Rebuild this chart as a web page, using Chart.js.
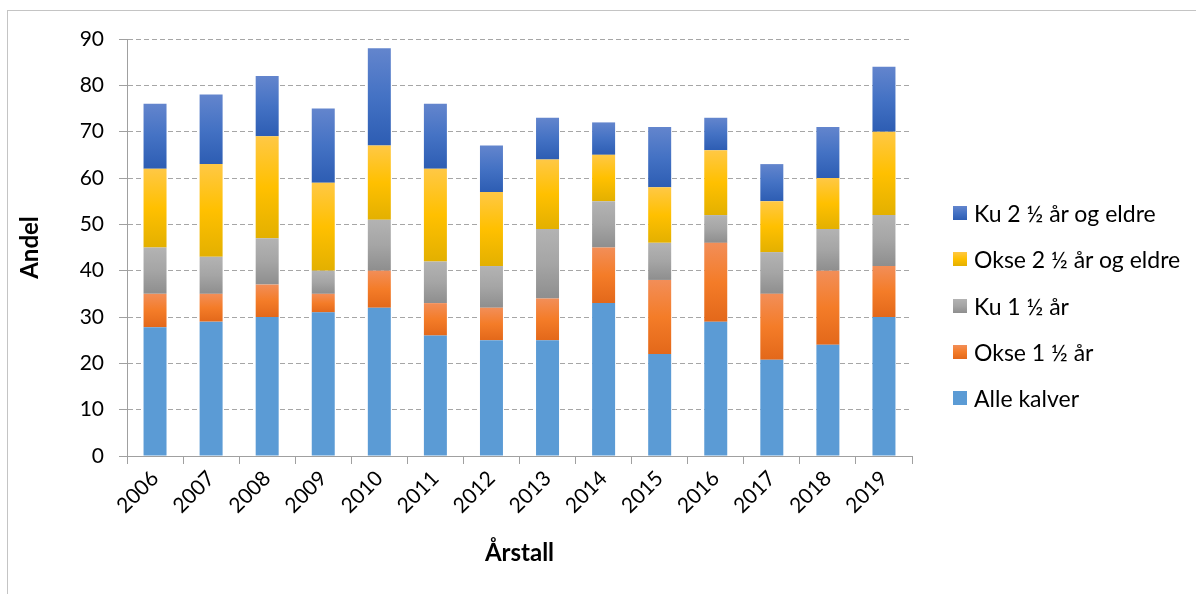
<!DOCTYPE html>
<html>
<head>
<meta charset="utf-8">
<script src="https://cdn.jsdelivr.net/npm/chart.js@4.4.1/dist/chart.umd.min.js"></script>
<style>
    html, body { margin: 0; padding: 0; background: #fff; overflow: hidden; }
    #wrap { position: relative; width: 1196px; height: 594px; }
    #frame { position: absolute; left: 7px; top: 10px; width: 1300px; height: 700px; border: 1.5px solid #c4c4c4; box-sizing: border-box; }
    #kuChart { position: absolute; left: 0; top: 0; }
    #legend { position: absolute; left: 953px; top: 190px; font-family: Lato, sans-serif; font-size: 23px; color: #000; }
    .item { display: flex; align-items: center; height: 46.25px; white-space: nowrap; }
    .box { width: 14px; height: 14px; margin-right: 7px; }
</style>
</head>
<body>
<div id="wrap">
    <div id="frame"></div>
    <canvas id="kuChart" width="1196" height="594"></canvas>
    <div id="legend"></div>
</div>
<script>
const years = ['2006', '2007', '2008', '2009', '2010', '2011', '2012', '2013', '2014', '2015', '2016', '2017', '2018', '2019'];
const alleKalver = [27.8, 29, 30, 31, 32, 26, 25, 25, 33, 22, 29, 20.8, 24, 30];
const okse1 = [7.2, 6, 7, 4, 8, 7, 7, 9, 12, 16, 17, 14.2, 16, 11];
const ku1 = [10, 8, 10, 5, 11, 9, 9, 15, 10, 8, 6, 9, 9, 11];
const okse2 = [17, 20, 22, 19, 16, 20, 16, 15, 10, 12, 14, 11, 11, 18];
const ku2 = [14, 15, 13, 16, 21, 14, 10, 9, 7, 13, 7, 8, 11, 14];
const yTicks = [0, 10, 20, 30, 40, 50, 60, 70, 80, 90];

const seriesNames = ['Alle kalver', 'Okse 1 ½ år', 'Ku 1 ½ år', 'Okse 2 ½ år og eldre', 'Ku 2 ½ år og eldre'];
const seriesData = [alleKalver, okse1, ku1, okse2, ku2];
// top / middle / bottom colour of each segment (Excel style gradient)
const seriesStops = [
    ['#5b9bd5', '#5b9bd5', '#5b9bd5'],
    ['#f28e58', '#f47c28', '#e3681a'],
    ['#b3b3b3', '#a5a5a5', '#8e8e8e'],
    ['#ffc845', '#ffc000', '#e3b000'],
    ['#6385cd', '#4472c4', '#2d5db3']
];

const FONT = 'Lato, sans-serif';

const gradientFill = (dsIndex) => (ctx) => {
    const stops = seriesStops[dsIndex];
    const chart = ctx.chart;
    if (ctx.type !== 'data' || !chart.chartArea) return stops[1];
    let base = 0;
    for (let i = 0; i < dsIndex; i++) base += seriesData[i][ctx.dataIndex];
    const top = base + seriesData[dsIndex][ctx.dataIndex];
    const y = chart.scales.y;
    const y0 = y.getPixelForValue(top);
    const y1 = y.getPixelForValue(base);
    if (!isFinite(y0) || !isFinite(y1) || y0 === y1) return stops[1];
    const g = chart.ctx.createLinearGradient(0, y0, 0, y1);
    g.addColorStop(0, stops[0]);
    g.addColorStop(0.5, stops[1]);
    g.addColorStop(1, stops[2]);
    return g;
};

const datasets = seriesNames.map((name, i) => ({
    label: name,
    data: seriesData[i],
    backgroundColor: gradientFill(i),
    borderWidth: 0,
    categoryPercentage: 1,
    barPercentage: 0.41
}));

const tickFont = { family: FONT, size: 21 };
const titleFont = { family: FONT, size: 24, weight: 'bold' };

new Chart(document.getElementById('kuChart').getContext('2d'), {
    type: 'bar',
    data: { labels: years, datasets: datasets },
    options: {
        responsive: false,
        animation: false,
        layout: { padding: { left: 8, top: 39, right: 284, bottom: 18 } },
        plugins: { legend: { display: false }, tooltip: { enabled: false } },
        scales: {
            x: {
                stacked: true,
                grid: { display: true, offset: true, drawOnChartArea: false, drawTicks: true, tickLength: 8, color: '#a0a0a0' },
                border: { color: '#a0a0a0', width: 1 },
                ticks: { font: tickFont, color: '#000', minRotation: 45, maxRotation: 45, padding: 2 },
                title: { display: true, text: 'Årstall', font: titleFont, color: '#000', padding: { top: 0, bottom: 8 } },
                afterFit: (scale) => { scale.height = 120; }
            },
            y: {
                stacked: true,
                min: 0,
                max: 90,
                afterBuildTicks: (scale) => { scale.ticks = yTicks.map(v => ({ value: v })); },
                grid: { color: '#a6a6a6', tickColor: '#a0a0a0', tickLength: 8, lineWidth: 1 },
                border: { color: '#a0a0a0', width: 1, dash: [5, 3] },
                ticks: { font: tickFont, color: '#000', padding: 15 },
                title: { display: true, text: 'Andel', font: titleFont, color: '#000', padding: { top: 8, bottom: 0 } },
                afterFit: (scale) => { scale.width = 119; }
            }
        }
    }
});

const legend = document.getElementById('legend');
for (let i = seriesNames.length - 1; i >= 0; i--) {
    const row = document.createElement('div');
    row.className = 'item';
    const box = document.createElement('div');
    box.className = 'box';
    const s = seriesStops[i];
    box.style.background = `linear-gradient(${s[0]}, ${s[1]}, ${s[2]})`;
    const txt = document.createElement('span');
    txt.textContent = seriesNames[i];
    row.appendChild(box);
    row.appendChild(txt);
    legend.appendChild(row);
}
</script>
</body>
</html>
